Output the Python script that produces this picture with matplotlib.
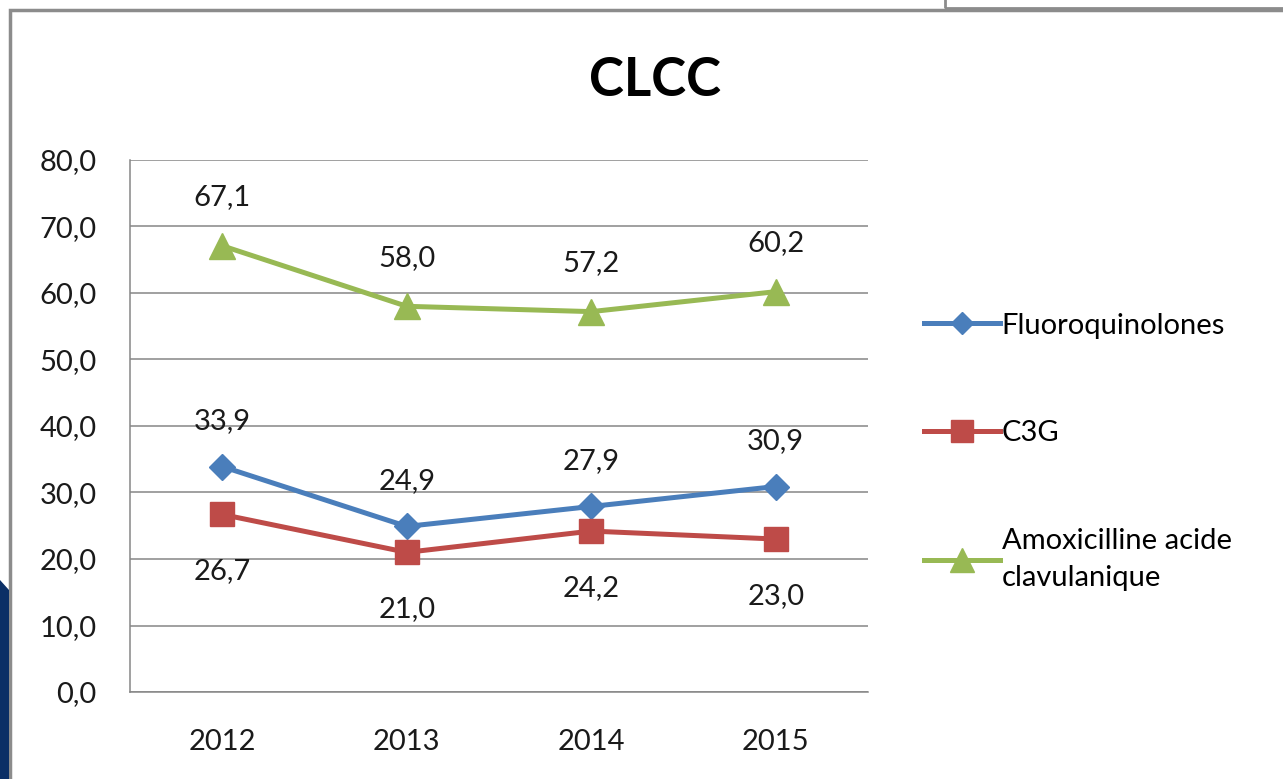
import matplotlib
matplotlib.use("Agg")
import matplotlib.pyplot as plt
from matplotlib.patches import Rectangle, Polygon
from matplotlib.ticker import FuncFormatter

years = ["2012", "2013", "2014", "2015"]
fluoro = [33.9, 24.9, 27.9, 30.9]
c3g = [26.7, 21.0, 24.2, 23.0]
amox = [67.1, 58.0, 57.2, 60.2]
series_names = ["Fluoroquinolones", "C3G", "Amoxicilline acide\nclavulanique"]

plt.rcParams['font.family'] = ['Lato', 'DejaVu Sans']

fig = plt.figure(figsize=(12.83, 7.79), dpi=100)
W, H = 1283, 779

# outer frame of the slide object
fig.patches.append(Rectangle((10 / W, -0.05), 1.2, 1 - 10 / H + 0.05, transform=fig.transFigure,
                             fill=False, edgecolor="#8c8c8c", lw=2.5, zorder=0))
fig.patches.append(Rectangle((945 / W, 1 - 8 / H), 1.0, 0.05, transform=fig.transFigure,
                             fill=False, edgecolor="#8c8c8c", lw=2, zorder=0))
fig.patches.append(Polygon([(0, 0), (9 / W, 0), (9 / W, 1 - 590 / H), (0, 1 - 580 / H)],
                           closed=True, transform=fig.transFigure, facecolor="#0b2f66",
                           edgecolor="none", zorder=0))

ax = fig.add_axes([130 / W, 1 - 692 / H, (868 - 130) / W, (692 - 160) / H])

x = range(len(years))
blue, red, green = "#4a7ebb", "#be4b48", "#98b954"
ax.plot(x, fluoro, color=blue, lw=3.6, marker="D", markersize=13, label=series_names[0], zorder=3)
ax.plot(x, c3g, color=red, lw=3.6, marker="s", markersize=17, label=series_names[1], zorder=3)
ax.plot(x, amox, color=green, lw=3.6, marker="^", markersize=19, label=series_names[2], zorder=3)

def fr(v):
    return ("%.1f" % v).replace(".", ",")

fs = 21
for i in x:
    ax.annotate(fr(fluoro[i]), (i, fluoro[i]), xytext=(0, 33), textcoords="offset points",
                ha="center", va="center", fontsize=fs, color="#1a1a1a")
    ax.annotate(fr(c3g[i]), (i, c3g[i]), xytext=(0, -41), textcoords="offset points",
                ha="center", va="center", fontsize=fs, color="#1a1a1a")
    ax.annotate(fr(amox[i]), (i, amox[i]), xytext=(0, 35), textcoords="offset points",
                ha="center", va="center", fontsize=fs, color="#1a1a1a")

ax.set_xlim(-0.5, 3.5)
ax.set_ylim(0, 80)
ax.set_yticks(range(0, 81, 10))
ax.yaxis.set_major_formatter(FuncFormatter(lambda v, p: fr(v)))
ax.set_xticks(list(x))
ax.set_xticklabels(years)
ax.tick_params(axis="both", length=0, labelsize=fs, colors="#1a1a1a")
ax.tick_params(axis="y", pad=24)
ax.tick_params(axis="x", pad=27)
ax.grid(axis="y", color="#868686", lw=1.1)
ax.set_axisbelow(True)
for s in ["top", "right"]:
    ax.spines[s].set_visible(False)
for s in ["left", "bottom"]:
    ax.spines[s].set_color("#868686")
    ax.spines[s].set_linewidth(1.1)

fig.text(655 / W, 1 - 80 / H, "CLCC", ha="center", va="center", fontsize=38,
         fontweight="bold", color="#000000")

leg = ax.legend(loc="center left", bbox_to_anchor=(898 / W, 1 - 452 / H),
                bbox_transform=fig.transFigure, frameon=False, fontsize=fs,
                handlelength=2.6, handletextpad=0.05, labelspacing=2.8, markerscale=0.9)
for t in leg.get_texts():
    t.set_linespacing(1.55)

fig.savefig("out.png", dpi=100)
